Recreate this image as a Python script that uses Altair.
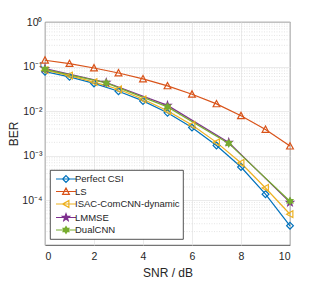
import math
import altair as alt
import pandas as pd

series_names = ["Perfect CSI", "LS", "ISAC-ComCNN-dynamic", "LMMSE", "DualCNN"]
colors = ["#0072BD", "#D95319", "#EDB120", "#7E2F8E", "#77AC30"]
fills = ["transparent", "transparent", "transparent", "#7E2F8E", "#77AC30"]

snr_full = [0, 1, 2, 3, 4, 5, 6, 7, 8, 9, 10]
snr_coarse = [0, 2.5, 5, 7.5, 10]

ber_perfect = [0.077, 0.059, 0.042, 0.028, 0.017, 0.0092, 0.0043, 0.0017, 0.00056, 0.000138, 0.000027]
ber_ls = [0.139, 0.117, 0.093, 0.072, 0.053, 0.037, 0.024, 0.0146, 0.0079, 0.0039, 0.00165]
ber_isac = [0.083, 0.063, 0.045, 0.031, 0.0185, 0.0102, 0.0049, 0.0020, 0.00069, 0.00019, 0.000049]
ber_lmmse = [0.090, 0.044, 0.0135, 0.0020, 0.000090]
ber_dual = [0.087, 0.043, 0.0125, 0.0019, 0.000096]

y_major = [1e-4, 1e-3, 1e-2, 1e-1, 1]
y_minor = [m * 10.0 ** e for e in range(-5, 0) for m in range(2, 10)]
x_ticks = [0, 2, 4, 6, 8, 10]

rows = []
for name, xs, ys in [
    ("Perfect CSI", snr_full, ber_perfect),
    ("LS", snr_full, ber_ls),
    ("ISAC-ComCNN-dynamic", snr_full, ber_isac),
    ("LMMSE", snr_coarse, ber_lmmse),
    ("DualCNN", snr_coarse, ber_dual),
]:
    for x, y in zip(xs, ys):
        rows.append({"series": name, "snr": x, "ber": y})
df = pd.DataFrame(rows)


def star_pts(n, r_in, scale):
    pts = []
    for k in range(2 * n):
        ang = math.radians(-90 + k * 180.0 / n)
        r = 1.0 if k % 2 == 0 else r_in
        pts.append((r * math.cos(ang) * scale, r * math.sin(ang) * scale))
    return "M" + "L".join(f"{x:.3f},{y:.3f}" for x, y in pts) + "Z"


def marker_paths(s):
    return [
        f"M0,{-s}L{s},0L0,{s}L{-s},0Z",
        f"M0,{-s}L{s},{0.85*s}L{-s},{0.85*s}Z",
        f"M{-s},0L{0.85*s},{-s}L{0.85*s},{s}Z",
        star_pts(5, 0.40, s * 1.1),
        star_pts(6, 0.577, s),
    ]


data_shapes = marker_paths(1.0)
legend_shapes = ["M-2,0H2" + p for p in marker_paths(0.68)]

font = "Liberation Sans"
x_scale = alt.Scale(domain=[0, 10], nice=False)
y_scale = alt.Scale(type="log", domain=[1e-5, 1], nice=False)

labexpr = ("datum.value >= 0.5 ? '10⁰' : datum.value >= 0.05 ? '10⁻¹' : "
           "datum.value >= 0.005 ? '10⁻²' : datum.value >= 0.0005 ? '10⁻³' : '10⁻⁴'")

x_axis = alt.Axis(values=x_ticks, title="SNR / dB", grid=True, format="d")
y_axis = alt.Axis(values=y_major, title="BER", grid=True, labelExpr=labexpr)

minor = alt.Chart(pd.DataFrame({"v": y_minor})).mark_rule(
    color="#d4d4d4", strokeWidth=0.6, strokeDash=[1, 1.5]
).encode(y=alt.Y("v:Q", scale=y_scale, axis=y_axis))

base = alt.Chart(df)
lines = base.mark_line(strokeWidth=1.2).encode(
    x=alt.X("snr:Q", scale=x_scale, axis=x_axis),
    y=alt.Y("ber:Q", scale=y_scale, axis=y_axis),
    color=alt.Color("series:N", scale=alt.Scale(domain=series_names, range=colors), legend=None),
    detail="series:N",
)

pts = base.mark_point(size=46, strokeWidth=1.2, opacity=1).encode(
    x=alt.X("snr:Q", scale=x_scale, axis=x_axis),
    y=alt.Y("ber:Q", scale=y_scale, axis=y_axis),
    stroke=alt.Stroke("series:N", scale=alt.Scale(domain=series_names, range=colors), legend=None),
    fill=alt.Fill("series:N", scale=alt.Scale(domain=series_names, range=fills), legend=None),
    shape=alt.Shape("series:N", scale=alt.Scale(domain=series_names, range=data_shapes), legend=None),
)

leg = base.transform_filter("false").mark_point(size=100, strokeWidth=1.2, opacity=1).encode(
    x=alt.X("snr:Q", scale=x_scale, axis=x_axis),
    y=alt.Y("ber:Q", scale=y_scale, axis=y_axis),
    stroke=alt.Stroke("series:N", scale=alt.Scale(domain=series_names, range=colors), title=None),
    fill=alt.Fill("series:N", scale=alt.Scale(domain=series_names, range=fills), title=None),
    shape=alt.Shape("series:N", scale=alt.Scale(domain=series_names, range=legend_shapes), title=None),
)

chart = alt.layer(minor, lines, pts, leg).resolve_scale(
    stroke="independent", fill="independent", shape="independent"
).properties(
    width=245, height=223,
    autosize=alt.AutoSizeParams(type="none"),
    padding={"left": 37, "top": 14, "right": 22, "bottom": 40},
).configure(
    font=font,
).configure_view(
    stroke="#262626", strokeWidth=0.8
).configure_axis(
    domain=False, ticks=False,
    gridColor="#e3e3e3", gridWidth=0.7,
    labelFont=font, labelFontSize=10.5, labelColor="#262626",
    titleFont=font, titleFontSize=12, titleFontWeight="normal", titleColor="#262626",
).configure_axisX(
    labelPadding=6, titlePadding=6,
).configure_axisY(
    labelPadding=3, titlePadding=1,
).configure_legend(
    orient="none", legendX=5, legendY=148,
    fillColor="white", strokeColor="#262626", strokeWidth=0.8,
    padding=3, rowPadding=0.5, labelOffset=3, symbolOffset=7,
    labelFont=font, labelFontSize=9.5, labelColor="#262626",
    symbolStrokeWidth=1.2, symbolSize=100, cornerRadius=0,
)

chart.save("out.html", embed_options={"renderer": "svg", "actions": False})
